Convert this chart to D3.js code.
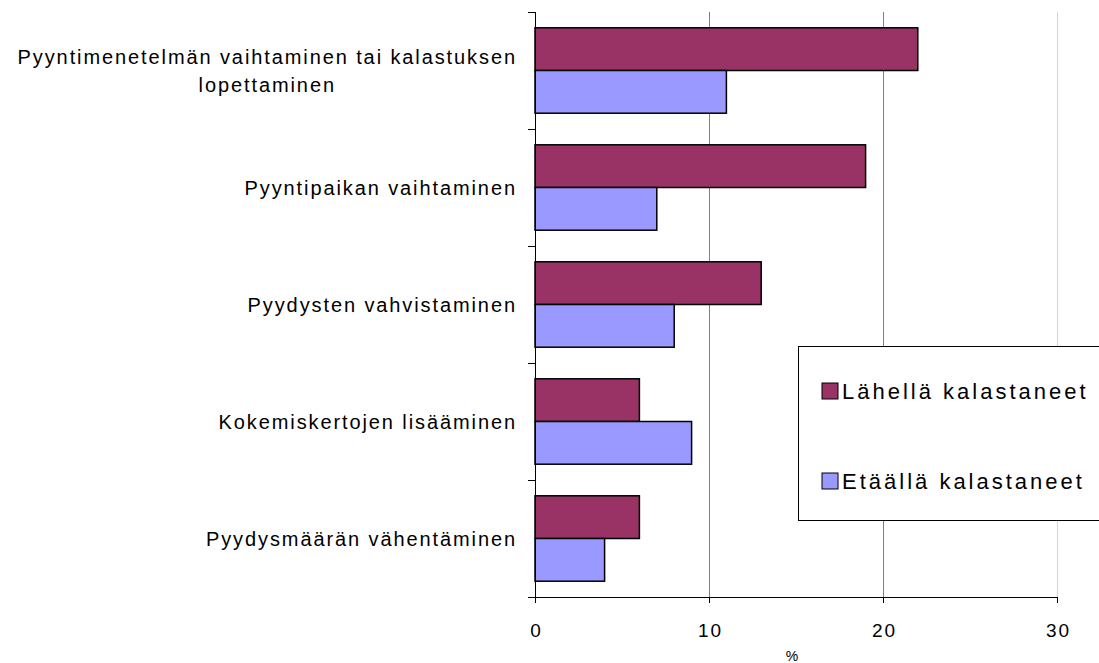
<!DOCTYPE html>
<html>
<head>
<meta charset="utf-8">
<script src="https://cdn.jsdelivr.net/npm/d3@7"></script>
<style>
  body { margin: 0; background: #fff; }
  text { font-family: "Liberation Sans", Arial, sans-serif; fill: #000; }
</style>
</head>
<body>
<div id="chart"></div>
<script>
// data
const categories = [
  ['Pyyntimenetelmän vaihtaminen tai kalastuksen', 'lopettaminen'],
  ['Pyyntipaikan vaihtaminen'],
  ['Pyydysten vahvistaminen'],
  ['Kokemiskertojen lisääminen'],
  ['Pyydysmäärän vähentäminen']
];
const seriesNames = ['Lähellä kalastaneet', 'Etäällä kalastaneet'];
const lahella = [22, 19, 13, 6, 6];
const etaalla = [11, 7, 8, 9, 4];
const xTicks = [0, 10, 20, 30];
const colors = ['#993366', '#9999ff'];

const width = 1099, height = 663;
const margin = { top: 12, left: 535, right: 42, bottom: 66 };

const svg = d3.select('#chart').append('svg')
  .attr('width', width)
  .attr('height', height);

const x = d3.scaleLinear()
  .domain([0, 30])
  .range([margin.left, width - margin.right]);
const y = d3.scaleBand()
  .domain(d3.range(categories.length))
  .range([margin.top, height - margin.bottom]);
const inner = d3.scaleBand()
  .domain([0, 1])
  .range([0, y.bandwidth()])
  .paddingOuter(0.37)
  .paddingInner(0);

// gridlines
svg.append('g').selectAll('line')
  .data(xTicks.slice(1)).enter()
  .append('line')
    .attr('x1', d => x(d)).attr('x2', d => x(d))
    .attr('y1', margin.top).attr('y2', height - margin.bottom)
    .attr('stroke', d => d === 30 ? '#d4d4d4' : '#808080')
    .attr('stroke-width', 1)
    .attr('shape-rendering', 'crispEdges');

// bars
const rows = categories.map((c, i) => [lahella[i], etaalla[i]]);
const groups = svg.append('g').selectAll('g')
  .data(rows).enter().append('g')
  .attr('transform', (d, i) => `translate(0, ${y(i)})`);
groups.selectAll('rect')
  .data(d => d).enter()
  .append('rect')
    .attr('x', x(0))
    .attr('y', (d, j) => inner(j))
    .attr('width', d => x(d) - x(0))
    .attr('height', inner.bandwidth())
    .attr('fill', (d, j) => colors[j])
    .attr('stroke', '#000')
    .attr('stroke-width', 1.5);

// x axis
const xAxis = svg.append('g')
  .attr('transform', `translate(0, ${height - margin.bottom})`)
  .call(d3.axisBottom(x).tickValues(xTicks).tickSize(6).tickPadding(21).tickSizeOuter(0));
xAxis.select('.domain').attr('stroke', '#000').attr('d', `M${x(0) - 7},0.5H${x(30)}`);
xAxis.selectAll('text')
  .attr('font-size', 19)
  .attr('font-family', '"Liberation Sans", Arial, sans-serif')
  .attr('dx', '1px')
  .style('letter-spacing', '2px');

// y axis (ticks between categories)
const yTicks = d3.range(categories.length + 1).map(i => margin.top + i * y.step());
svg.append('line')
  .attr('x1', x(0)).attr('x2', x(0))
  .attr('y1', margin.top).attr('y2', height - margin.bottom)
  .attr('stroke', '#000')
  .attr('shape-rendering', 'crispEdges');
svg.append('g').selectAll('line')
  .data(yTicks.slice(0, -1)).enter()
  .append('line')
    .attr('x1', x(0) - 7).attr('x2', x(0))
    .attr('y1', d => d).attr('y2', d => d)
    .attr('stroke', '#000')
    .attr('shape-rendering', 'crispEdges');

// category labels
const labelRight = 516;
const lineH = 28;
const ls = 1.9;
categories.forEach((lines, i) => {
  const cy = y(i) + y.bandwidth() / 2;
  const t = svg.append('text')
    .attr('font-size', 20)
    .style('letter-spacing', `${ls}px`)
    .attr('text-anchor', 'middle');
  lines.forEach((s, k) => {
    t.append('tspan')
      .attr('x', 0)
      .attr('y', cy + (k - (lines.length - 1) / 2) * lineH)
      .attr('dy', '0.35em')
      .text(s);
  });
  const w = t.node().getBBox().width - ls;
  t.attr('transform', `translate(${labelRight - w / 2}, 0)`);
});

// x title
svg.append('text')
  .attr('x', 792).attr('y', 661)
  .attr('text-anchor', 'middle')
  .attr('font-size', 14)
  .text('%');

// legend
const legend = svg.append('g').attr('transform', 'translate(798, 346)');
legend.append('rect')
  .attr('x', 0.5).attr('y', 0.5)
  .attr('width', 320).attr('height', 174)
  .attr('fill', '#fff')
  .attr('stroke', '#000');
const items = legend.selectAll('g.item')
  .data(seriesNames).enter().append('g')
  .attr('transform', (d, i) => `translate(24, ${45 + i * 90})`);
items.append('rect')
  .attr('x', 0).attr('y', -8)
  .attr('width', 16).attr('height', 16)
  .attr('fill', (d, i) => colors[i])
  .attr('stroke', '#000');
items.append('text')
  .attr('x', 20).attr('y', 0)
  .attr('dy', '0.36em')
  .attr('font-size', 22)
  .style('letter-spacing', '3px')
  .text(d => d);
</script>
</body>
</html>
